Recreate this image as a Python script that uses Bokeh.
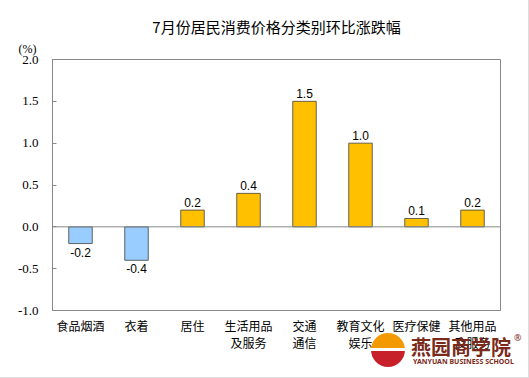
from bokeh.plotting import figure
from bokeh.models import ColumnDataSource, FixedTicker, Span, Title, NumeralTickFormatter, Div
from bokeh.layouts import column
from bokeh.core.properties import value
from bokeh.embed import file_html
from bokeh.resources import INLINE

categories = ["食品烟酒", "衣着", "居住", "生活用品及服务", "交通通信", "教育文化娱乐", "医疗保健", "其他用品及服务"]
tick_labels = ["食品烟酒", "衣着", "居住", "生活用品\n及服务", "交通\n通信", "教育文化\n娱乐", "医疗保健", "其他用品\n及服务"]
values = [-0.2, -0.4, 0.2, 0.4, 1.5, 1.0, 0.1, 0.2]
y_ticks = [-1.0, -0.5, 0.0, 0.5, 1.0, 1.5, 2.0]

xs = list(range(len(categories)))
colors = ["#99CCFF" if v < 0 else "#FFC000" for v in values]
labels = [f"{v:.1f}" for v in values]

src = ColumnDataSource(dict(x=xs, top=values, color=colors, label=labels))
pos = ColumnDataSource(dict(x=[i for i, v in zip(xs, values) if v >= 0],
                            y=[v for v in values if v >= 0],
                            label=[l for l, v in zip(labels, values) if v >= 0]))
neg = ColumnDataSource(dict(x=[i for i, v in zip(xs, values) if v < 0],
                            y=[v for v in values if v < 0],
                            label=[l for l, v in zip(labels, values) if v < 0]))

p = figure(width=529, height=378, x_range=(-0.5, len(categories) - 0.5), y_range=(-1.0, 2.0),
           output_backend="svg", toolbar_location=None,
           min_border_left=52, min_border_right=29, min_border_top=10, min_border_bottom=68)
p.styles = {"border-right": "1px solid #dddddd", "border-bottom": "1px solid #dddddd"}

p.add_layout(Title(text="(%)", align="left", offset=-34, text_font="Liberation Serif",
                   text_font_size="12px", text_font_style="normal", text_color="#000000",
                   standoff=7), "above")
p.add_layout(Title(text="7月份居民消费价格分类别环比涨跌幅", align="center", offset=-15,
                   text_font="Noto Sans CJK SC", text_font_size="15px", text_font_style="normal",
                   text_color="#000000", standoff=0, text_line_height=0.6), "above")
p.add_layout(Title(text=" ", text_font_size="10px", standoff=0), "above")

p.vbar(x="x", top="top", bottom=0, width=0.42, fill_color="color",
       line_color="#404040", line_width=0.8, source=src)

p.add_layout(Span(location=0, dimension="width", line_color="#888888", line_width=1))

p.text(x="x", y="y", text="label", source=pos, text_align="center", text_baseline="bottom",
       y_offset=-3, text_font=value("Liberation Sans"), text_font_size="12px", text_color="#000000")
p.text(x="x", y="y", text="label", source=neg, text_align="center", text_baseline="top",
       y_offset=4, text_font=value("Liberation Sans"), text_font_size="12px", text_color="#000000")

p.xgrid.visible = False
p.ygrid.visible = False
p.outline_line_color = "#888888"
p.outline_line_width = 1

p.yaxis.ticker = FixedTicker(ticks=y_ticks)
p.yaxis.formatter = NumeralTickFormatter(format="0.0")
p.yaxis.major_tick_in = 4
p.yaxis.major_tick_out = 0
p.yaxis.minor_tick_line_color = None
p.yaxis.axis_line_color = "#888888"
p.yaxis.major_tick_line_color = "#888888"
p.yaxis.major_label_text_font = "Liberation Serif"
p.yaxis.major_label_text_font_size = "13px"
p.yaxis.major_label_text_color = "#000000"
p.yaxis.major_label_standoff = 14

p.xaxis.ticker = FixedTicker(ticks=xs)
p.xaxis.major_label_overrides = {i: t for i, t in zip(xs, tick_labels)}
p.xaxis.major_tick_line_color = None
p.xaxis.minor_tick_line_color = None
p.xaxis.axis_line_color = "#888888"
p.xaxis.major_label_text_font = "Noto Sans CJK SC"
p.xaxis.major_label_text_font_size = "12px"
p.xaxis.major_label_text_color = "#000000"
p.xaxis.major_label_text_line_height = 1.0
p.xaxis.major_label_standoff = 0

wm = Div(text=(
    '<div style="position:relative;width:155px;height:44px;">'
    '<div style="position:absolute;left:0px;top:0px;width:34px;height:34px;border-radius:17px;'
    'background:linear-gradient(#F39A00 45%, #ffffff 45%, #ffffff 52%, #C8202A 52%);"></div>'
    '<div style="position:absolute;left:40px;top:2px;font:bold 20px/24px \'Noto Sans CJK SC\';color:#7A2A1A;">燕园商学院</div>'
    '<div style="position:absolute;left:143px;top:0px;font:9px/10px \'Noto Sans\';color:#7A2A1A;">®</div>'
    '<div style="position:absolute;left:42px;top:24px;font:bold 7px/9px \'Noto Sans\';color:#7A2A1A;">YANYUAN BUSINESS SCHOOL</div>'
    '</div>'), width=155, height=44,
    styles={"position": "absolute", "left": "366px", "top": "328px"})

layout = column(p, wm)
open("out.html", "w").write(file_html(layout, INLINE))
